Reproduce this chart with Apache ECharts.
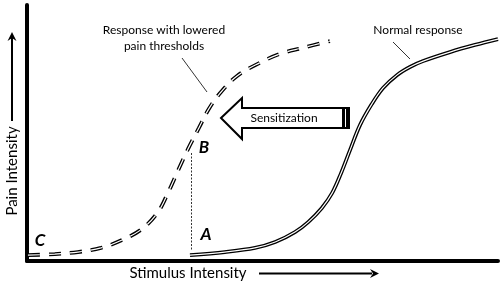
<!DOCTYPE html>
<html><head><meta charset="utf-8">
<script src="https://cdn.jsdelivr.net/npm/echarts@6/dist/echarts.min.js"></script>
<style>html,body{margin:0;padding:0;background:#fff}#c{width:500px;height:284px}</style>
</head><body><div id="c"></div>
<script>
// Response with lowered pain thresholds (dashed curve)
const loweredX = [0.2, 5.9, 10.8, 15.7, 20.2, 24.4, 27.8, 30.1, 32.1, 34.2, 36.5, 38.6, 41.0, 44.6, 49.3, 53.7, 58.4, 64.3];
const loweredY = [2.3, 2.7, 3.5, 5.1, 8.2, 12.5, 19.1, 27.3, 35.5, 43.8, 52.0, 59.4, 65.6, 72.3, 77.3, 80.9, 83.2, 85.9];
// Normal response (solid curve)
const normalX = [34.6, 42.0, 48.4, 52.7, 56.9, 59.7, 62.6, 64.8, 66.7, 68.6, 70.7, 73.2, 75.6, 78.6, 81.3, 84.1, 89.8, 95.1, 100];
const normalY = [2.3, 3.5, 5.1, 7.4, 11.3, 15.2, 20.7, 26.6, 34.4, 43.4, 53.1, 61.3, 67.6, 72.7, 75.8, 78.1, 81.6, 84.4, 86.7];
const yAxisTitle = 'Pain Intensity';
const xAxisTitle = 'Stimulus Intensity';
const loweredLabel = 'Response with lowered\npain thresholds';
const normalLabel = 'Normal response';
const arrowLabel = 'Sensitization';
const pointLabels = ['A', 'B', 'C'];

const zip = (xs, ys) => xs.map((x, i) => [x, ys[i]]);
const FONT = 'Lato, "Open Sans", sans-serif';

function dbl(name, data, dashed) {
  const type = dashed ? [12, 9] : 'solid';
  const common = {type: 'line', data, smooth: 0.35, symbol: 'none', silent: true};
  return [
    {...common, name, lineStyle: {color: '#000', width: 3.8, type, cap: 'butt'}, z: 2},
    {...common, name: name + '-inner', lineStyle: {color: '#fff', width: 1.2, type, cap: 'butt'}, z: 3}
  ];
}

const chart = echarts.init(document.getElementById('c'), null, {renderer: 'canvas'});
chart.setOption({
  animation: false,
  backgroundColor: '#fff',
  grid: {left: 27, right: 2, top: 5, bottom: 23},
  xAxis: {type: 'value', min: 0, max: 100, axisLine: {lineStyle: {color: '#000', width: 4}},
          axisTick: {show: false}, axisLabel: {show: false}, splitLine: {show: false}},
  yAxis: {type: 'value', min: 0, max: 100, axisLine: {show: true, lineStyle: {color: '#000', width: 4}},
          axisTick: {show: false}, axisLabel: {show: false}, splitLine: {show: false}},
  series: [...dbl('lowered', zip(loweredX, loweredY), true), ...dbl('normal', zip(normalX, normalY), false)],
  graphic: [
    // y axis title + arrow
    {type: 'text', x: 12, y: 171, rotation: Math.PI / 2, style: {text: yAxisTitle, font: '15px ' + FONT, fill: '#000', align: 'center', verticalAlign: 'middle'}},
    {type: 'line', shape: {x1: 12, y1: 121, x2: 12, y2: 38}, style: {stroke: '#000', lineWidth: 2}},
    {type: 'polygon', shape: {points: [[12, 32], [7.5, 41], [12, 38], [16.5, 41]]}, style: {fill: '#000'}},
    // x axis title + arrow
    {type: 'text', x: 188, y: 273, style: {text: xAxisTitle, font: '15px ' + FONT, fill: '#000', align: 'center', verticalAlign: 'middle'}},
    {type: 'line', shape: {x1: 259, y1: 273.5, x2: 372, y2: 273.5}, style: {stroke: '#000', lineWidth: 2}},
    {type: 'polygon', shape: {points: [[379, 273.5], [370, 269], [373, 273.5], [370, 278]]}, style: {fill: '#000'}},
    // curve labels
    {type: 'text', x: 164, y: 38, style: {text: loweredLabel, font: '12px ' + FONT, fill: '#000', align: 'center', verticalAlign: 'middle', lineHeight: 16}},
    {type: 'line', shape: {x1: 182, y1: 58, x2: 207, y2: 92}, style: {stroke: '#000', lineWidth: 0.8}},
    {type: 'text', x: 418, y: 30, style: {text: normalLabel, font: '12px ' + FONT, fill: '#000', align: 'center', verticalAlign: 'middle'}},
    {type: 'line', shape: {x1: 393, y1: 42, x2: 410, y2: 59}, style: {stroke: '#000', lineWidth: 0.8}},
    // sensitization arrow
    {type: 'polygon', shape: {points: [[221, 118], [242, 98], [242, 108], [349, 108], [349, 128], [242, 128], [242, 139]]},
     style: {fill: '#fff', stroke: '#000', lineWidth: 2, lineJoin: 'miter'}, z: 10},
    {type: 'rect', shape: {x: 342, y: 107, width: 8, height: 22}, style: {fill: '#000'}, z: 11},
    {type: 'rect', shape: {x: 345, y: 109, width: 1, height: 18}, style: {fill: '#fff'}, z: 12},
    {type: 'text', x: 284, y: 118, style: {text: arrowLabel, font: '12px ' + FONT, fill: '#000', align: 'center', verticalAlign: 'middle'}, z: 12},
    // dotted guide
    {type: 'line', shape: {x1: 191.5, y1: 153, x2: 191.5, y2: 250}, style: {stroke: '#000', lineWidth: 0.8, lineDash: [2, 1.5]}},
    // point labels
    {type: 'text', x: 206, y: 235, style: {text: pointLabels[0], font: 'italic bold 17px ' + FONT, fill: '#000', align: 'center', verticalAlign: 'middle'}},
    {type: 'text', x: 204, y: 148, style: {text: pointLabels[1], font: 'italic bold 17px ' + FONT, fill: '#000', align: 'center', verticalAlign: 'middle'}},
    {type: 'text', x: 40, y: 241, style: {text: pointLabels[2], font: 'italic bold 17px ' + FONT, fill: '#000', align: 'center', verticalAlign: 'middle'}}
  ]
});
</script></body></html>
